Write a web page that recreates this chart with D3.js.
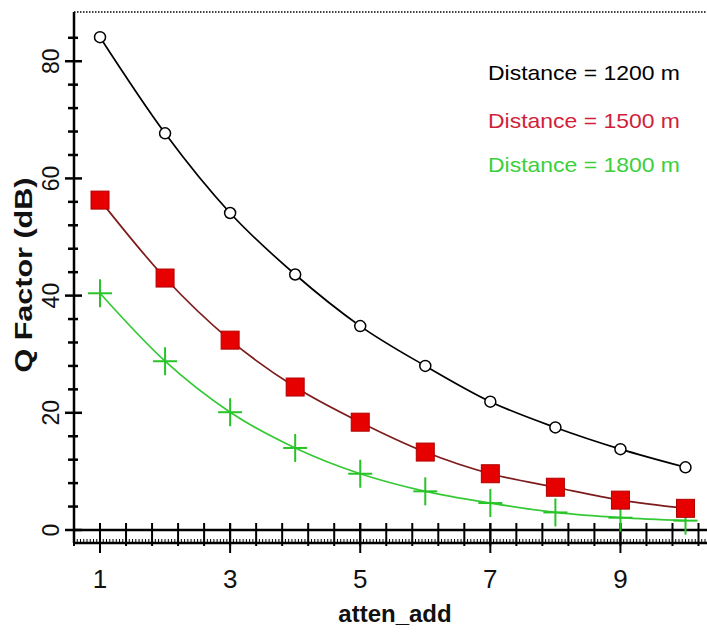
<!DOCTYPE html>
<html>
<head>
<meta charset="utf-8">
<script src="https://cdn.jsdelivr.net/npm/d3@7"></script>
<style>
  body { margin: 0; background: #ffffff; }
  svg { display: block; font-family: Arial, "Liberation Sans", sans-serif; }
</style>
</head>
<body>
<svg id="chart" width="707" height="633"></svg>
<script>
// Data
const atten_add = [1, 2, 3, 4, 5, 6, 7, 8, 9, 10]
const q_1200 = [84.1, 67.7, 54.1, 43.6, 34.8, 28.0, 21.9, 17.5, 13.8, 10.7]
const q_1500 = [56.3, 43.0, 32.4, 24.4, 18.4, 13.3, 9.6, 7.3, 5.1, 3.7]
const q_1800 = [40.4, 28.8, 20.1, 14.0, 9.6, 6.6, 4.6, 3.0, 2.1, 1.6]
const legend_labels = ['Distance = 1200 m', 'Distance = 1500 m', 'Distance = 1800 m']
const x_tick_values = [1, 3, 5, 7, 9]
const y_tick_values = [0, 20, 40, 60, 80]

const color_dict = {
  'black': '#000000',
  'red_line': '#7d1c1c',
  'red_mark': '#e60000',
  'red_text': '#d11f3a',
  'green_line': '#36c936',
  'green_mark': '#27c427',
  'green_text': '#3ccf3c'
}

const svg = d3.select('#chart')

const x = d3.scaleLinear().domain([0.6, 10.3]).range([74, 705])
const y = d3.scaleLinear().domain([0, 88.4]).range([530, 12])
const x_axis_y = y(0)
const ruler_y = x_axis_y + 13

// top dotted frame line
svg.append('line')
  .attr('x1', x(0.6)).attr('x2', 707)
  .attr('y1', y(88.4)).attr('y2', y(88.4))
  .style('stroke', '#000')
  .style('stroke-width', 1.5)
  .style('stroke-dasharray', '1.5,1.5')

function gen_y_axis() {
  let g = svg.append('g')
  g.append('line')
    .attr('x1', x(0.6)).attr('x2', x(0.6))
    .attr('y1', y(88.4)).attr('y2', ruler_y)
    .style('stroke', '#000').style('stroke-width', 2.5)

  // minor ticks every 4, major every 20
  let minor = d3.range(0, 88, 4)
  g.selectAll('.y-minor')
    .data(minor)
    .enter()
    .append('line')
    .attr('x1', d => x(0.6) - (d % 20 == 0 ? 9 : 6))
    .attr('x2', d => x(0.6) + (d % 20 == 0 ? 8 : 4))
    .attr('y1', d => y(d)).attr('y2', d => y(d))
    .style('stroke', '#000').style('stroke-width', 2.5)

  g.selectAll('.y-label')
    .data(y_tick_values)
    .enter()
    .append('text')
    .attr('transform', d => `translate(59, ${y(d)}) rotate(-90)`)
    .attr('text-anchor', 'middle')
    .style('font-size', '23px')
    .style('fill', '#111')
    .text(d => d)

  svg.append('text')
    .attr('transform', `translate(32, ${y(43.5)}) rotate(-90)`)
    .attr('text-anchor', 'middle')
    .attr('textLength', 195)
    .attr('lengthAdjust', 'spacingAndGlyphs')
    .style('font-size', '24px')
    .style('font-weight', 'bold')
    .style('fill', '#111')
    .text('Q Factor (dB)')
}

function gen_x_axis() {
  let g = svg.append('g')
  g.append('line')
    .attr('x1', x(0.6)).attr('x2', 707)
    .attr('y1', x_axis_y).attr('y2', x_axis_y)
    .style('stroke', '#000').style('stroke-width', 2.5)

  // second ruler line
  g.append('line')
    .attr('x1', x(0.6)).attr('x2', 707)
    .attr('y1', ruler_y).attr('y2', ruler_y)
    .style('stroke', '#000').style('stroke-width', 2.5)

  let ruler = d3.range(0.6, 10.35, 0.05)
  g.selectAll('.ruler-tick')
    .data(ruler)
    .enter()
    .append('line')
    .attr('x1', d => x(d)).attr('x2', d => x(d))
    .attr('y1', ruler_y - 4).attr('y2', ruler_y)
    .style('stroke', '#000').style('stroke-width', 1)

  let minor = d3.range(0.6, 10.35, 0.4)
  g.selectAll('.x-minor')
    .data(minor)
    .enter()
    .append('line')
    .attr('x1', d => x(d)).attr('x2', d => x(d))
    .attr('y1', x_axis_y - 7).attr('y2', ruler_y + 3)
    .style('stroke', '#000').style('stroke-width', 2)

  g.selectAll('.x-major')
    .data(x_tick_values)
    .enter()
    .append('line')
    .attr('x1', d => x(d)).attr('x2', d => x(d))
    .attr('y1', x_axis_y - 7).attr('y2', ruler_y + 10)
    .style('stroke', '#000').style('stroke-width', 2)

  g.selectAll('.x-label')
    .data(x_tick_values)
    .enter()
    .append('text')
    .attr('x', d => x(d))
    .attr('y', 588)
    .attr('text-anchor', 'middle')
    .style('font-size', '26px')
    .style('fill', '#111')
    .text(d => d)

  svg.append('text')
    .attr('x', 395)
    .attr('y', 622)
    .attr('text-anchor', 'middle')
    .style('font-size', '24px')
    .style('font-weight', 'bold')
    .style('fill', '#111')
    .text('atten_add')
}

function gen_series(values, line_color) {
  let pts = atten_add.map((d, i) => [d, values[i]])
  let line = d3.line()
    .x(d => x(d[0]))
    .y(d => y(d[1]))
    .curve(d3.curveMonotoneX)
  svg.append('path')
    .datum(pts)
    .attr('d', line)
    .style('fill', 'none')
    .style('stroke', line_color)
    .style('stroke-width', 1.7)
  return pts
}

gen_y_axis()
gen_x_axis()

// Distance = 1800 m (green crosses)
let pts_1800 = gen_series(q_1800, color_dict['green_line'])
let cross_g = svg.selectAll('.cross')
  .data(pts_1800)
  .enter()
  .append('g')
  .attr('transform', d => `translate(${x(d[0])}, ${y(d[1])})`)
cross_g.append('line')
  .attr('x1', 0).attr('x2', 0).attr('y1', -14).attr('y2', 14)
  .style('stroke', color_dict['green_mark']).style('stroke-width', 2)
cross_g.append('line')
  .attr('x1', -12).attr('x2', 12).attr('y1', 0).attr('y2', 0)
  .style('stroke', color_dict['green_mark']).style('stroke-width', 2)

// Distance = 1500 m (red squares)
let pts_1500 = gen_series(q_1500, color_dict['red_line'])
svg.selectAll('.square')
  .data(pts_1500)
  .enter()
  .append('rect')
  .attr('x', d => x(d[0]) - 9)
  .attr('y', d => y(d[1]) - 9)
  .attr('width', 18)
  .attr('height', 18)
  .style('fill', color_dict['red_mark'])
  .style('stroke', '#b00000')
  .style('stroke-width', 1)

// Distance = 1200 m (open circles)
let pts_1200 = gen_series(q_1200, color_dict['black'])
svg.selectAll('.circle')
  .data(pts_1200)
  .enter()
  .append('circle')
  .attr('cx', d => x(d[0]))
  .attr('cy', d => y(d[1]))
  .attr('r', 5.5)
  .style('fill', '#fff')
  .style('stroke', '#000')
  .style('stroke-width', 1.5)

// Legend
let legend_colors = [color_dict['black'], color_dict['red_text'], color_dict['green_text']]
let legend_y = [80, 128, 172]
svg.selectAll('.legend')
  .data(legend_labels)
  .enter()
  .append('text')
  .attr('x', 488)
  .attr('y', (d, i) => legend_y[i])
  .attr('textLength', 192)
  .attr('lengthAdjust', 'spacingAndGlyphs')
  .style('font-size', '21px')
  .style('fill', (d, i) => legend_colors[i])
  .text(d => d)
</script>
</body>
</html>
